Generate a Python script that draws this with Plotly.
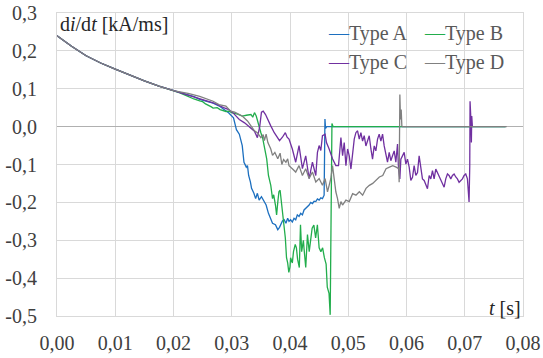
import plotly.graph_objects as go

# ---- data -------------------------------------------------------------
# shared early part of the decay (all four curves overlap here)
t_common = [0.0, 0.0025, 0.005, 0.0075, 0.01, 0.0125, 0.015, 0.0175, 0.02]
v_common = [0.240, 0.212, 0.187, 0.168, 0.152, 0.136, 0.121, 0.107, 0.095]

t_a = [0.0211, 0.022, 0.0235, 0.0245, 0.0255, 0.0268, 0.0278, 0.0286, 0.0295,
       0.0303, 0.0308, 0.0313, 0.0318, 0.0321, 0.0325, 0.0327, 0.0329, 0.0332,
       0.0334, 0.0338, 0.0341, 0.0344, 0.0347, 0.0351, 0.0356, 0.0359, 0.0363,
       0.0367, 0.0370, 0.0375, 0.0379, 0.0382, 0.0384, 0.0387, 0.0390, 0.0393,
       0.0396, 0.03983, 0.04011, 0.0404, 0.04069, 0.04098, 0.04126, 0.04155,
       0.04184, 0.04213, 0.04241, 0.0427, 0.04299, 0.04328, 0.04356, 0.04385,
       0.04414, 0.04443, 0.04471, 0.045, 0.04529, 0.04557, 0.04586, 0.0460,
       0.0461, 0.0463, 0.0770]
v_a = [0.091, 0.086, 0.079, 0.072, 0.068, 0.062, 0.055, 0.046, 0.036,
       0.023, -0.008, -0.020, -0.050, -0.094, -0.107, -0.103, -0.129, -0.146,
       -0.163, -0.176, -0.190, -0.176, -0.194, -0.185, -0.198, -0.207, -0.229,
       -0.242, -0.255, -0.259, -0.272, -0.266, -0.259, -0.249, -0.246, -0.255,
       -0.242, -0.250, -0.246, -0.252, -0.242, -0.246, -0.233, -0.237,
       -0.229, -0.233, -0.220, -0.216, -0.211, -0.207, -0.200, -0.203,
       -0.197, -0.198, -0.191, -0.194, -0.188, -0.190, -0.181, 0.020,
       -0.005, 0.0, 0.0]

t_b = [0.0211, 0.022, 0.023, 0.0235, 0.0245, 0.025, 0.0255, 0.026, 0.0265,
       0.0268, 0.0275, 0.028, 0.0286, 0.029, 0.0295, 0.030, 0.031, 0.0318,
       0.0325, 0.0333, 0.0336, 0.0339, 0.0342, 0.0344, 0.0347, 0.035, 0.0353,
       0.0356, 0.036, 0.0363, 0.0367, 0.037, 0.0372, 0.0375, 0.0377, 0.0379,
       0.0381, 0.0383, 0.0386, 0.0389, 0.0392, 0.0394, 0.0396, 0.0398, 0.0400,
       0.0401, 0.0404, 0.0406, 0.0409, 0.0411, 0.0413, 0.0416, 0.0418, 0.0420,
       0.0423, 0.0424, 0.0427, 0.0430, 0.0433, 0.0435, 0.0438, 0.0441, 0.0444,
       0.0447, 0.0450, 0.0453, 0.0456, 0.0459, 0.0462, 0.0464, 0.0467, 0.0469,
       0.0471, 0.0472, 0.0474, 0.0770]
v_b = [0.089, 0.083, 0.075, 0.073, 0.068, 0.066, 0.060, 0.057, 0.052,
       0.049, 0.050, 0.045, 0.043, 0.040, 0.041, 0.037, 0.033, 0.028,
       0.030, 0.032, 0.025, 0.037, 0.028, 0.015, 0.000, -0.016, -0.030,
       -0.050, -0.085, -0.129, -0.155, -0.190, -0.180, -0.207, -0.233, -0.200,
       -0.172, -0.168, -0.207, -0.250, -0.294, -0.346, -0.360, -0.385, -0.370,
       -0.346, -0.360, -0.330, -0.311, -0.320, -0.350, -0.372, -0.259, -0.330,
       -0.300, -0.320, -0.372, -0.285, -0.330, -0.305, -0.268, -0.260, -0.294,
       -0.259, -0.320, -0.330, -0.320, -0.346, -0.363, -0.424, -0.440, -0.497,
       -0.200, 0.008, 0.0, 0.0]

t_c = [0.0211, 0.0225, 0.0245, 0.0268, 0.0286, 0.0295, 0.0303, 0.0313, 0.0322,
       0.0333, 0.0339, 0.0344, 0.0348, 0.0351, 0.0354, 0.0358, 0.0363, 0.0367,
       0.0373, 0.0377, 0.0382, 0.0387, 0.0392, 0.0395, 0.03983, 0.0404,
       0.04098, 0.04155, 0.04213, 0.0427, 0.04328, 0.04385, 0.04443, 0.04471,
       0.0450, 0.04529, 0.04557, 0.04603, 0.04626, 0.04672, 0.0473, 0.04787,
       0.04833, 0.04874, 0.04903, 0.04931, 0.0496, 0.04989, 0.05017, 0.05046,
       0.05074, 0.05103, 0.05131, 0.0516, 0.05189, 0.05217, 0.05246, 0.05274,
       0.05303, 0.05331, 0.0536, 0.05389, 0.05417, 0.05446, 0.05474, 0.05503,
       0.05531, 0.0556, 0.05589, 0.05617, 0.05646, 0.05674, 0.05703, 0.05731,
       0.0576, 0.05789, 0.05817, 0.05846, 0.05863, 0.05886, 0.05903, 0.05931,
       0.0596, 0.05989, 0.06017, 0.06046, 0.06074, 0.06103, 0.06131, 0.0616,
       0.06189, 0.06217, 0.06246, 0.06274, 0.06303, 0.06331, 0.0636, 0.06389,
       0.06417, 0.06446, 0.06474, 0.06503, 0.06531, 0.0656, 0.06589, 0.06617,
       0.06646, 0.06674, 0.06703, 0.06731, 0.0676, 0.06789, 0.06817, 0.06846,
       0.06874, 0.06903, 0.06931, 0.0696, 0.06989, 0.07017, 0.07046, 0.07074,
       0.07086, 0.07091, 0.07103, 0.07114, 0.0712, 0.07131]
v_c = [0.091, 0.085, 0.075, 0.063, 0.050, 0.045, 0.035, 0.019, 0.010,
       -0.003, -0.012, -0.029, 0.000, 0.038, 0.041, 0.032, 0.013, 0.002,
       -0.016, -0.025, -0.037, -0.028, -0.016, -0.028, -0.033, -0.059,
       -0.094, -0.050, -0.111, -0.077, -0.137, -0.094, -0.129, -0.068,
       -0.050, -0.063, -0.024, -0.020, -0.042, -0.059, -0.085, -0.103,
       -0.103, -0.029, -0.077, -0.042, -0.103, -0.059, -0.077, -0.112,
       -0.077, -0.033, -0.016, -0.011, -0.033, -0.016, -0.038, -0.024,
       -0.051, -0.038, -0.024, -0.059, -0.086, -0.051, -0.064, -0.033,
       -0.020, -0.038, -0.020, -0.051, -0.077, -0.094, -0.068, -0.090,
       -0.077, -0.064, -0.094, -0.046, -0.112, -0.138, -0.086, -0.077,
       -0.068, -0.099, -0.086, -0.107, -0.142, -0.134, -0.103, -0.129,
       -0.121, -0.077, -0.103, -0.138, -0.142, -0.155, -0.164, -0.129,
       -0.138, -0.116, -0.138, -0.112, -0.121, -0.129, -0.138, -0.147,
       -0.160, -0.138, -0.125, -0.129, -0.138, -0.129, -0.125, -0.133,
       -0.138, -0.147, -0.142, -0.138, -0.129, -0.125, -0.138, -0.199,
       -0.103, 0.067, 0.028, -0.042, 0.028, 0.0]

t_d = [0.0211, 0.0225, 0.0245, 0.0268, 0.0278, 0.0286, 0.0290, 0.0298, 0.0305,
       0.0318, 0.0327, 0.0333, 0.0339, 0.0344, 0.0350, 0.0354, 0.0356, 0.0359,
       0.0362, 0.0367, 0.0370, 0.0374, 0.0377, 0.0379, 0.0383, 0.0386, 0.0389,
       0.0393, 0.0396, 0.03983, 0.0404, 0.04098, 0.04155, 0.04213, 0.0427,
       0.04328, 0.04385, 0.04443, 0.0450, 0.04557, 0.04603, 0.04644, 0.04672,
       0.04701, 0.0473, 0.04759, 0.04787, 0.04816, 0.04845, 0.04874, 0.04902,
       0.0496, 0.05017, 0.05075, 0.05132, 0.0519, 0.05247, 0.05305, 0.05362,
       0.0542, 0.05477, 0.05534, 0.05592, 0.05649, 0.05707, 0.05764, 0.05822,
       0.05868, 0.05874, 0.05886, 0.05897, 0.05909, 0.0592, 0.05931, 0.0772]
v_d = [0.092, 0.088, 0.080, 0.067, 0.058, 0.054, 0.054, 0.041, 0.038,
       0.028, 0.015, 0.002, -0.011, -0.016, -0.029, -0.021, -0.037, -0.020,
       -0.042, -0.059, -0.076, -0.068, -0.078, -0.085, -0.070, -0.100, -0.087,
       -0.094, -0.085, -0.103, -0.111, -0.120, -0.103, -0.129, -0.111,
       -0.137, -0.120, -0.146, -0.137, -0.155, -0.137, -0.172, -0.155,
       -0.137, -0.103, -0.137, -0.172, -0.190, -0.216, -0.198, -0.207,
       -0.194, -0.198, -0.177, -0.181, -0.172, -0.181, -0.163, -0.155,
       -0.150, -0.142, -0.133, -0.129, -0.111, -0.107, -0.103, -0.107,
       -0.111, -0.147, 0.085, 0.019, 0.045, 0.002, 0.0, 0.0]

series_names = ["Type A", "Type B", "Type C", "Type D"]
series_colors = ["#1c6fbf", "#22ad4c", "#7030a0", "#808080"]

x_ticks = [0.00, 0.01, 0.02, 0.03, 0.04, 0.05, 0.06, 0.07, 0.08]
x_tick_text = ["0,00", "0,01", "0,02", "0,03", "0,04", "0,05", "0,06", "0,07", "0,08"]
y_ticks = [-0.5, -0.4, -0.3, -0.2, -0.1, 0.0, 0.1, 0.2, 0.3]
y_tick_text = ["-0,5", "-0,4", "-0,3", "-0,2", "-0,1", "0,0", "0,1", "0,2", "0,3"]

# ---- figure -----------------------------------------------------------
FONT = "Liberation Serif"
GRID = "#d9d9d9"
FS = 20

fig = go.Figure()
all_t = [t_a, t_b, t_c, t_d]
all_v = [v_a, v_b, v_c, v_d]
for name, color, ts, vs in zip(series_names, series_colors, all_t, all_v):
    fig.add_trace(go.Scatter(
        x=t_common + ts, y=v_common + vs, mode="lines", name=name,
        line=dict(color=color, width=1.3), showlegend=False,
    ))

fig.update_layout(
    width=543, height=358,
    margin=dict(l=57, r=20, t=13, b=42, autoexpand=False),
    paper_bgcolor="white", plot_bgcolor="white",
    separators=", ",
    font=dict(family=FONT, size=FS, color="#404040"),
)
fig.update_xaxes(
    range=[0, 0.08], tickvals=x_ticks, ticktext=x_tick_text, automargin=False,
    tickfont=dict(family=FONT, size=FS, color="#404040"),
    showgrid=True, gridcolor=GRID, gridwidth=1,
    showline=True, linecolor=GRID, mirror=True,
    zeroline=False, ticks="", ticklabelstandoff=9,
)
fig.update_yaxes(
    range=[-0.5, 0.3], tickvals=y_ticks, ticktext=y_tick_text, automargin=False,
    tickfont=dict(family=FONT, size=FS, color="#404040"),
    showgrid=True, gridcolor=GRID, gridwidth=1,
    showline=True, linecolor=GRID, mirror=True,
    zeroline=True, zerolinecolor="#b0b0b0", zerolinewidth=1.3,
    ticks="", ticklabelstandoff=15,
)

# axis captions placed inside the plotting area
fig.add_annotation(
    text="d<i>i</i>/d<i>t</i> [kA/ms]", xref="paper", yref="paper",
    x=0.003, y=1.005, xanchor="left", yanchor="top", showarrow=False,
    font=dict(family=FONT, size=FS, color="#262626"),
)
fig.add_annotation(
    text="<i>t</i> [s]", xref="paper", yref="paper",
    x=1.0, y=-0.017, xanchor="right", yanchor="bottom", showarrow=False,
    font=dict(family=FONT, size=FS, color="#262626"),
)

# two-column legend: short coloured dash followed by the series name
legend_pos = [(0.578, 0.931), (0.784, 0.931), (0.578, 0.838), (0.784, 0.838)]
for name, color, (lx, ly) in zip(series_names, series_colors, legend_pos):
    fig.add_annotation(
        text=f"<span style='color:{color}'>\u2014</span>{name}",
        xref="paper", yref="paper", x=lx, y=ly, xanchor="left", yanchor="middle",
        showarrow=False, font=dict(family=FONT, size=FS, color="#595959"),
    )

fig.write_html("out.html")
